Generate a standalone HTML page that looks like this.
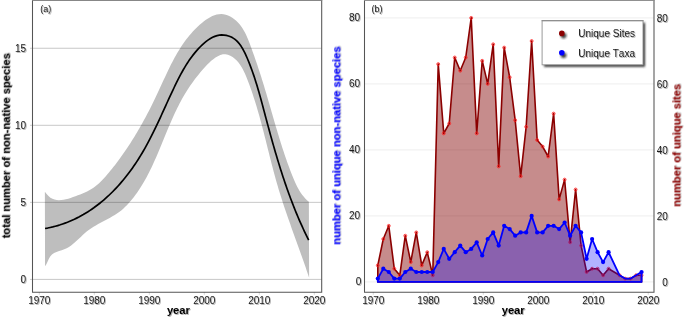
<!DOCTYPE html>
<html><head><meta charset="utf-8"><style>
html,body{margin:0;padding:0;background:#fff;width:685px;height:320px;overflow:hidden;}
svg{display:block;}
text{font-family:"Liberation Sans", sans-serif;font-kerning:none;}
</style></head><body>
<svg width="685" height="320" viewBox="0 0 685 320">
<defs>
<filter id="ts" x="-20%" y="-20%" width="140%" height="140%"><feDropShadow dx="0.9" dy="0.9" stdDeviation="0.6" flood-color="#000" flood-opacity="0.35"/></filter>
<filter id="sh" x="-20%" y="-20%" width="140%" height="140%"><feGaussianBlur stdDeviation="0.9"/></filter>
</defs>
<rect width="685" height="320" fill="#fff"/>
<path d="M44.87,191.68 L46.63,194.12 L48.48,196.09 L50.42,197.63 L52.44,198.77 L54.54,199.56 L56.71,200.02 L58.94,200.18 L61.21,200.1 L63.53,199.8 L65.88,199.31 L68.26,198.67 L70.65,197.93 L73.05,197.1 L75.45,196.24 L77.85,195.35 L80.22,194.44 L82.56,193.49 L84.86,192.48 L87.12,191.42 L89.31,190.27 L91.42,189.05 L93.46,187.72 L95.41,186.29 L97.29,184.78 L99.1,183.18 L100.84,181.51 L102.54,179.79 L104.19,178.01 L105.8,176.2 L107.39,174.36 L108.96,172.49 L110.5,170.61 L112.03,168.72 L113.55,166.81 L115.05,164.89 L116.53,162.96 L118,161.01 L119.45,159.04 L120.88,157.07 L122.3,155.08 L123.71,153.08 L125.09,151.07 L126.47,149.05 L127.83,147.01 L129.17,144.96 L130.51,142.91 L131.82,140.84 L133.12,138.76 L134.41,136.67 L135.69,134.57 L136.95,132.46 L138.2,130.34 L139.44,128.21 L140.66,126.07 L141.87,123.93 L143.07,121.77 L144.25,119.61 L145.43,117.44 L146.59,115.26 L147.74,113.07 L148.88,110.88 L150.01,108.68 L151.12,106.47 L152.23,104.26 L153.32,102.04 L154.4,99.82 L155.48,97.59 L156.54,95.35 L157.59,93.11 L158.64,90.86 L159.67,88.62 L160.71,86.37 L161.74,84.12 L162.77,81.87 L163.8,79.62 L164.83,77.38 L165.88,75.14 L166.92,72.91 L167.98,70.68 L169.06,68.47 L170.14,66.26 L171.24,64.07 L172.37,61.89 L173.51,59.72 L174.67,57.57 L175.86,55.43 L177.08,53.32 L178.32,51.22 L179.6,49.14 L180.91,47.08 L182.25,45.05 L183.63,43.04 L185.05,41.06 L186.52,39.1 L188.02,37.17 L189.58,35.28 L191.18,33.41 L192.83,31.57 L194.53,29.77 L196.29,28.01 L198.1,26.28 L199.97,24.58 L201.9,22.93 L203.89,21.34 L205.93,19.83 L208.02,18.44 L210.15,17.19 L212.32,16.11 L214.52,15.24 L216.74,14.59 L218.99,14.19 L221.25,14.08 L223.52,14.28 L225.79,14.77 L228.02,15.54 L230.2,16.54 L232.31,17.77 L234.32,19.18 L236.21,20.75 L237.96,22.46 L239.58,24.29 L241.08,26.23 L242.47,28.27 L243.76,30.39 L244.96,32.59 L246.08,34.86 L247.14,37.17 L248.13,39.52 L249.08,41.89 L249.99,44.28 L250.87,46.66 L251.73,49.04 L252.58,51.4 L253.41,53.75 L254.24,56.08 L255.05,58.41 L255.85,60.73 L256.64,63.03 L257.42,65.34 L258.19,67.64 L258.95,69.94 L259.7,72.23 L260.45,74.53 L261.18,76.84 L261.91,79.14 L262.63,81.46 L263.34,83.78 L264.05,86.1 L264.75,88.43 L265.45,90.77 L266.15,93.11 L266.84,95.45 L267.52,97.8 L268.21,100.15 L268.89,102.5 L269.57,104.86 L270.25,107.22 L270.93,109.58 L271.61,111.94 L272.29,114.31 L272.98,116.67 L273.66,119.04 L274.35,121.41 L275.04,123.77 L275.73,126.14 L276.43,128.51 L277.13,130.87 L277.84,133.24 L278.56,135.6 L279.28,137.96 L280,140.32 L280.74,142.68 L281.48,145.03 L282.24,147.38 L283,149.73 L283.77,152.07 L284.55,154.41 L285.34,156.74 L286.15,159.07 L286.96,161.39 L287.79,163.71 L288.64,166.02 L289.49,168.33 L290.36,170.63 L291.25,172.92 L292.15,175.2 L293.07,177.48 L294.01,179.75 L294.98,181.99 L296,184.21 L297.07,186.4 L298.2,188.55 L299.41,190.65 L300.71,192.69 L302.1,194.67 L303.6,196.58 L305.23,198.41 L306.98,200.16 L308.87,201.81 L309.12,277.74 L308.28,275.21 L307.43,272.68 L306.57,270.15 L305.71,267.62 L304.83,265.1 L303.96,262.58 L303.07,260.06 L302.18,257.54 L301.29,255.02 L300.39,252.51 L299.49,249.99 L298.59,247.48 L297.68,244.97 L296.78,242.46 L295.87,239.95 L294.97,237.43 L294.06,234.92 L293.16,232.41 L292.26,229.9 L291.36,227.38 L290.47,224.87 L289.58,222.35 L288.69,219.83 L287.81,217.32 L286.94,214.79 L286.08,212.27 L285.22,209.75 L284.37,207.22 L283.52,204.69 L282.69,202.15 L281.87,199.61 L281.06,197.07 L280.26,194.53 L279.47,191.98 L278.69,189.43 L277.93,186.87 L277.18,184.31 L276.45,181.75 L275.72,179.18 L275.01,176.61 L274.31,174.03 L273.62,171.45 L272.94,168.87 L272.26,166.29 L271.59,163.7 L270.93,161.11 L270.27,158.52 L269.61,155.93 L268.96,153.34 L268.31,150.75 L267.66,148.15 L267.01,145.56 L266.36,142.97 L265.71,140.37 L265.06,137.78 L264.4,135.19 L263.74,132.6 L263.07,130.01 L262.4,127.43 L261.72,124.84 L261.03,122.26 L260.33,119.68 L259.62,117.11 L258.9,114.54 L258.17,111.97 L257.43,109.41 L256.67,106.85 L255.9,104.29 L255.11,101.74 L254.31,99.2 L253.48,96.66 L252.64,94.12 L251.78,91.59 L250.9,89.07 L250,86.56 L249.08,84.05 L248.13,81.55 L247.16,79.05 L246.17,76.57 L245.12,74.11 L244.02,71.68 L242.82,69.3 L241.51,66.99 L240.08,64.76 L238.48,62.62 L236.72,60.59 L234.75,58.7 L232.62,57.01 L230.33,55.64 L227.93,54.67 L225.44,54.2 L222.89,54.34 L220.34,55.07 L217.85,56.2 L215.5,57.58 L213.3,59.14 L211.21,60.84 L209.23,62.66 L207.32,64.58 L205.48,66.55 L203.67,68.55 L201.9,70.57 L200.17,72.61 L198.47,74.67 L196.8,76.75 L195.17,78.86 L193.57,80.99 L192.01,83.14 L190.49,85.31 L189,87.5 L187.55,89.72 L186.13,91.96 L184.75,94.23 L183.41,96.52 L182.1,98.83 L180.82,101.16 L179.57,103.51 L178.36,105.88 L177.17,108.27 L176,110.68 L174.86,113.09 L173.74,115.53 L172.63,117.97 L171.55,120.43 L170.48,122.89 L169.42,125.37 L168.37,127.85 L167.33,130.33 L166.3,132.82 L165.27,135.31 L164.25,137.81 L163.23,140.3 L162.21,142.8 L161.18,145.29 L160.15,147.78 L159.11,150.26 L158.07,152.74 L157.01,155.21 L155.94,157.67 L154.86,160.12 L153.76,162.56 L152.64,164.99 L151.5,167.4 L150.34,169.8 L149.15,172.18 L147.94,174.54 L146.7,176.89 L145.43,179.21 L144.13,181.51 L142.79,183.79 L141.41,186.05 L140,188.27 L138.55,190.48 L137.06,192.65 L135.52,194.79 L133.93,196.91 L132.3,198.99 L130.61,201.03 L128.88,203.03 L127.08,204.98 L125.21,206.86 L123.27,208.66 L121.26,210.38 L119.16,212 L116.99,213.53 L114.75,214.97 L112.45,216.35 L110.11,217.68 L107.74,218.97 L105.35,220.24 L102.96,221.5 L100.56,222.77 L98.19,224.06 L95.84,225.39 L93.54,226.77 L91.28,228.22 L89.1,229.74 L86.98,231.36 L84.95,233.08 L82.97,234.87 L81.03,236.69 L79.11,238.53 L77.17,240.35 L75.22,242.12 L73.21,243.82 L71.14,245.42 L68.97,246.89 L66.69,248.2 L64.29,249.33 L61.74,250.25 L59.11,251.07 L56.53,251.95 L54.1,253.05 L51.96,254.53 L50.19,256.55 L48.77,259.01 L47.53,261.63 L46.35,264.17 L45.05,266.34 Z" fill="#bebebe"/>
<line x1="32.5" y1="279.4" x2="321.7" y2="279.4" stroke="#000" stroke-opacity="0.22" stroke-width="1"/>
<line x1="30" y1="279.4" x2="32.5" y2="279.4" stroke="#000" stroke-opacity="0.2" stroke-width="1"/>
<line x1="32.5" y1="202.35" x2="321.7" y2="202.35" stroke="#000" stroke-opacity="0.22" stroke-width="1"/>
<line x1="30" y1="202.35" x2="32.5" y2="202.35" stroke="#000" stroke-opacity="0.2" stroke-width="1"/>
<line x1="32.5" y1="125.3" x2="321.7" y2="125.3" stroke="#000" stroke-opacity="0.22" stroke-width="1"/>
<line x1="30" y1="125.3" x2="32.5" y2="125.3" stroke="#000" stroke-opacity="0.2" stroke-width="1"/>
<line x1="32.5" y1="48.25" x2="321.7" y2="48.25" stroke="#000" stroke-opacity="0.22" stroke-width="1"/>
<line x1="30" y1="48.25" x2="32.5" y2="48.25" stroke="#000" stroke-opacity="0.2" stroke-width="1"/>
<path d="M45.03,228.52 L47.63,228.04 L50.2,227.5 L52.74,226.91 L55.26,226.26 L57.75,225.56 L60.21,224.81 L62.64,224 L65.05,223.14 L67.42,222.24 L69.77,221.28 L72.09,220.28 L74.39,219.23 L76.65,218.13 L78.89,216.99 L81.1,215.8 L83.29,214.57 L85.45,213.29 L87.58,211.98 L89.68,210.62 L91.76,209.22 L93.81,207.79 L95.83,206.31 L97.83,204.8 L99.8,203.25 L101.74,201.67 L103.66,200.05 L105.55,198.4 L107.42,196.72 L109.26,195 L111.07,193.25 L112.86,191.48 L114.62,189.67 L116.36,187.84 L118.07,185.97 L119.75,184.09 L121.41,182.17 L123.05,180.24 L124.66,178.28 L126.24,176.29 L127.8,174.29 L129.33,172.26 L130.84,170.21 L132.33,168.15 L133.79,166.06 L135.22,163.96 L136.63,161.85 L138.01,159.71 L139.38,157.57 L140.71,155.41 L142.02,153.23 L143.31,151.05 L144.58,148.85 L145.82,146.65 L147.04,144.43 L148.24,142.21 L149.42,139.97 L150.58,137.73 L151.72,135.48 L152.85,133.23 L153.97,130.97 L155.07,128.7 L156.16,126.43 L157.24,124.15 L158.31,121.87 L159.37,119.58 L160.43,117.29 L161.48,115 L162.52,112.71 L163.57,110.41 L164.61,108.12 L165.65,105.82 L166.7,103.52 L167.74,101.23 L168.79,98.93 L169.85,96.64 L170.91,94.35 L171.98,92.06 L173.05,89.78 L174.14,87.5 L175.24,85.22 L176.35,82.95 L177.47,80.69 L178.61,78.43 L179.78,76.18 L180.97,73.94 L182.18,71.72 L183.43,69.51 L184.72,67.32 L186.04,65.15 L187.41,62.99 L188.82,60.86 L190.28,58.76 L191.79,56.68 L193.37,54.63 L195,52.6 L196.7,50.61 L198.46,48.66 L200.3,46.74 L202.2,44.87 L204.17,43.09 L206.2,41.42 L208.28,39.89 L210.42,38.51 L212.6,37.33 L214.82,36.36 L217.09,35.62 L219.38,35.16 L221.7,34.96 L224.01,35.04 L226.29,35.37 L228.52,35.95 L230.68,36.79 L232.74,37.85 L234.68,39.15 L236.49,40.67 L238.16,42.39 L239.72,44.29 L241.17,46.33 L242.52,48.51 L243.78,50.79 L244.97,53.15 L246.1,55.57 L247.16,58.02 L248.19,60.48 L249.18,62.93 L250.13,65.38 L251.06,67.83 L251.95,70.27 L252.82,72.7 L253.65,75.13 L254.47,77.56 L255.25,79.98 L256.02,82.4 L256.77,84.82 L257.5,87.23 L258.21,89.65 L258.91,92.06 L259.59,94.47 L260.26,96.88 L260.92,99.29 L261.58,101.7 L262.23,104.11 L262.87,106.52 L263.51,108.93 L264.15,111.35 L264.79,113.77 L265.43,116.19 L266.07,118.61 L266.72,121.03 L267.37,123.46 L268.03,125.89 L268.68,128.32 L269.35,130.75 L270.01,133.18 L270.68,135.62 L271.36,138.05 L272.04,140.49 L272.73,142.92 L273.42,145.36 L274.12,147.79 L274.82,150.23 L275.53,152.66 L276.25,155.09 L276.97,157.52 L277.71,159.95 L278.44,162.38 L279.19,164.81 L279.95,167.23 L280.71,169.66 L281.48,172.08 L282.26,174.49 L283.05,176.91 L283.85,179.32 L284.65,181.72 L285.47,184.12 L286.3,186.52 L287.14,188.92 L287.99,191.31 L288.85,193.69 L289.72,196.07 L290.6,198.45 L291.49,200.82 L292.4,203.18 L293.31,205.54 L294.24,207.89 L295.18,210.24 L296.14,212.57 L297.11,214.91 L298.09,217.23 L299.08,219.55 L300.09,221.86 L301.11,224.16 L302.15,226.45 L303.2,228.74 L304.27,231.02 L305.35,233.28 L306.45,235.54 L307.56,237.79 L308.69,240.03" fill="none" stroke="#000" stroke-width="1.7" stroke-linecap="butt" stroke-linejoin="round"/>
<path d="M32.5,0 V292.3 H321.7 V0" fill="none" stroke="#555" stroke-width="1.05"/>
<line x1="32.0" y1="0.45" x2="322.2" y2="0.45" stroke="#808080" stroke-width="1"/>
<line x1="39.3" y1="292.3" x2="39.3" y2="294.8" stroke="#000" stroke-opacity="0.15" stroke-width="1"/>
<text x="39.3" y="303.7" font-family="Liberation Sans" font-size="10" text-anchor="middle" fill="#1a1a1a" filter="url(#ts)">1970</text>
<line x1="94.3" y1="292.3" x2="94.3" y2="294.8" stroke="#000" stroke-opacity="0.15" stroke-width="1"/>
<text x="94.3" y="303.7" font-family="Liberation Sans" font-size="10" text-anchor="middle" fill="#1a1a1a" filter="url(#ts)">1980</text>
<line x1="149.3" y1="292.3" x2="149.3" y2="294.8" stroke="#000" stroke-opacity="0.15" stroke-width="1"/>
<text x="149.3" y="303.7" font-family="Liberation Sans" font-size="10" text-anchor="middle" fill="#1a1a1a" filter="url(#ts)">1990</text>
<line x1="204.3" y1="292.3" x2="204.3" y2="294.8" stroke="#000" stroke-opacity="0.15" stroke-width="1"/>
<text x="204.3" y="303.7" font-family="Liberation Sans" font-size="10" text-anchor="middle" fill="#1a1a1a" filter="url(#ts)">2000</text>
<line x1="259.3" y1="292.3" x2="259.3" y2="294.8" stroke="#000" stroke-opacity="0.15" stroke-width="1"/>
<text x="259.3" y="303.7" font-family="Liberation Sans" font-size="10" text-anchor="middle" fill="#1a1a1a" filter="url(#ts)">2010</text>
<line x1="314.3" y1="292.3" x2="314.3" y2="294.8" stroke="#000" stroke-opacity="0.15" stroke-width="1"/>
<text x="314.3" y="303.7" font-family="Liberation Sans" font-size="10" text-anchor="middle" fill="#1a1a1a" filter="url(#ts)">2020</text>
<text x="26.1" y="283" font-family="Liberation Sans" font-size="10" text-anchor="end" fill="#1a1a1a" filter="url(#ts)">0</text>
<text x="26.1" y="205.95" font-family="Liberation Sans" font-size="10" text-anchor="end" fill="#1a1a1a" filter="url(#ts)">5</text>
<text x="26.1" y="128.9" font-family="Liberation Sans" font-size="10" text-anchor="end" fill="#1a1a1a" filter="url(#ts)">10</text>
<text x="26.1" y="51.85" font-family="Liberation Sans" font-size="10" text-anchor="end" fill="#1a1a1a" filter="url(#ts)">15</text>
<text x="40.3" y="11.6" font-family="Liberation Sans" font-size="9" fill="#1a1a1a" filter="url(#ts)">(a)</text>
<text x="178.4" y="313.8" font-family="Liberation Sans" font-size="11.2" font-weight="bold" text-anchor="middle" fill="#000" filter="url(#ts)">year</text>
<text transform="translate(9.8,145.8) rotate(-90)" font-family="Liberation Sans" font-size="11.2" font-weight="bold" text-anchor="middle" fill="#000" filter="url(#ts)">total number of non-native species</text>
<line x1="364.5" y1="281.9" x2="654.0" y2="281.9" stroke="#000" stroke-opacity="0.07" stroke-width="1"/>
<line x1="364.5" y1="215.9" x2="654.0" y2="215.9" stroke="#000" stroke-opacity="0.07" stroke-width="1"/>
<line x1="364.5" y1="149.9" x2="654.0" y2="149.9" stroke="#000" stroke-opacity="0.07" stroke-width="1"/>
<line x1="364.5" y1="83.9" x2="654.0" y2="83.9" stroke="#000" stroke-opacity="0.07" stroke-width="1"/>
<line x1="364.5" y1="17.9" x2="654.0" y2="17.9" stroke="#000" stroke-opacity="0.07" stroke-width="1"/>
<path d="M377.8,265.4 L383.29,239 L388.79,225.8 L394.28,268.7 L399.78,275.3 L405.27,235.7 L410.76,262.1 L416.26,232.4 L421.75,265.4 L427.25,252.2 L432.75,275.3 L438.24,64.1 L443.74,133.4 L449.23,123.5 L454.73,57.5 L460.22,70.7 L465.72,57.5 L471.21,17.9 L476.71,133.4 L482.2,60.8 L487.69,83.9 L493.19,44.3 L498.69,166.4 L504.18,47.6 L509.68,77.3 L515.17,120.2 L520.66,176.3 L526.16,126.8 L531.65,41 L537.15,140 L542.64,146.6 L548.14,156.5 L553.63,113.6 L559.13,199.4 L564.62,179.6 L570.12,242.3 L575.62,189.5 L581.11,245.6 L586.61,272 L592.1,268.7 L597.6,268.7 L603.09,275.3 L608.59,268.7 L619.58,275.3 L625.07,278.6 L630.57,278.6 L636.06,275.3 L641.56,275.3 L641.56,281.9 L377.8,281.9 Z" fill="#800000" fill-opacity="0.45" stroke="#8b0000" stroke-width="1.6" stroke-linejoin="round"/>
<circle cx="377.8" cy="265.4" r="1.45" fill="#f00" fill-opacity="0.15" stroke="#ff1a1a" stroke-opacity="0.85" stroke-width="0.9"/>
<circle cx="383.29" cy="239" r="1.45" fill="#f00" fill-opacity="0.15" stroke="#ff1a1a" stroke-opacity="0.85" stroke-width="0.9"/>
<circle cx="388.79" cy="225.8" r="1.45" fill="#f00" fill-opacity="0.15" stroke="#ff1a1a" stroke-opacity="0.85" stroke-width="0.9"/>
<circle cx="394.28" cy="268.7" r="1.45" fill="#f00" fill-opacity="0.15" stroke="#ff1a1a" stroke-opacity="0.85" stroke-width="0.9"/>
<circle cx="399.78" cy="275.3" r="1.45" fill="#f00" fill-opacity="0.15" stroke="#ff1a1a" stroke-opacity="0.85" stroke-width="0.9"/>
<circle cx="405.27" cy="235.7" r="1.45" fill="#f00" fill-opacity="0.15" stroke="#ff1a1a" stroke-opacity="0.85" stroke-width="0.9"/>
<circle cx="410.76" cy="262.1" r="1.45" fill="#f00" fill-opacity="0.15" stroke="#ff1a1a" stroke-opacity="0.85" stroke-width="0.9"/>
<circle cx="416.26" cy="232.4" r="1.45" fill="#f00" fill-opacity="0.15" stroke="#ff1a1a" stroke-opacity="0.85" stroke-width="0.9"/>
<circle cx="421.75" cy="265.4" r="1.45" fill="#f00" fill-opacity="0.15" stroke="#ff1a1a" stroke-opacity="0.85" stroke-width="0.9"/>
<circle cx="427.25" cy="252.2" r="1.45" fill="#f00" fill-opacity="0.15" stroke="#ff1a1a" stroke-opacity="0.85" stroke-width="0.9"/>
<circle cx="432.75" cy="275.3" r="1.45" fill="#f00" fill-opacity="0.15" stroke="#ff1a1a" stroke-opacity="0.85" stroke-width="0.9"/>
<circle cx="438.24" cy="64.1" r="1.45" fill="#f00" fill-opacity="0.15" stroke="#ff1a1a" stroke-opacity="0.85" stroke-width="0.9"/>
<circle cx="443.74" cy="133.4" r="1.45" fill="#f00" fill-opacity="0.15" stroke="#ff1a1a" stroke-opacity="0.85" stroke-width="0.9"/>
<circle cx="449.23" cy="123.5" r="1.45" fill="#f00" fill-opacity="0.15" stroke="#ff1a1a" stroke-opacity="0.85" stroke-width="0.9"/>
<circle cx="454.73" cy="57.5" r="1.45" fill="#f00" fill-opacity="0.15" stroke="#ff1a1a" stroke-opacity="0.85" stroke-width="0.9"/>
<circle cx="460.22" cy="70.7" r="1.45" fill="#f00" fill-opacity="0.15" stroke="#ff1a1a" stroke-opacity="0.85" stroke-width="0.9"/>
<circle cx="465.72" cy="57.5" r="1.45" fill="#f00" fill-opacity="0.15" stroke="#ff1a1a" stroke-opacity="0.85" stroke-width="0.9"/>
<circle cx="471.21" cy="17.9" r="1.45" fill="#f00" fill-opacity="0.15" stroke="#ff1a1a" stroke-opacity="0.85" stroke-width="0.9"/>
<circle cx="476.71" cy="133.4" r="1.45" fill="#f00" fill-opacity="0.15" stroke="#ff1a1a" stroke-opacity="0.85" stroke-width="0.9"/>
<circle cx="482.2" cy="60.8" r="1.45" fill="#f00" fill-opacity="0.15" stroke="#ff1a1a" stroke-opacity="0.85" stroke-width="0.9"/>
<circle cx="487.69" cy="83.9" r="1.45" fill="#f00" fill-opacity="0.15" stroke="#ff1a1a" stroke-opacity="0.85" stroke-width="0.9"/>
<circle cx="493.19" cy="44.3" r="1.45" fill="#f00" fill-opacity="0.15" stroke="#ff1a1a" stroke-opacity="0.85" stroke-width="0.9"/>
<circle cx="498.69" cy="166.4" r="1.45" fill="#f00" fill-opacity="0.15" stroke="#ff1a1a" stroke-opacity="0.85" stroke-width="0.9"/>
<circle cx="504.18" cy="47.6" r="1.45" fill="#f00" fill-opacity="0.15" stroke="#ff1a1a" stroke-opacity="0.85" stroke-width="0.9"/>
<circle cx="509.68" cy="77.3" r="1.45" fill="#f00" fill-opacity="0.15" stroke="#ff1a1a" stroke-opacity="0.85" stroke-width="0.9"/>
<circle cx="515.17" cy="120.2" r="1.45" fill="#f00" fill-opacity="0.15" stroke="#ff1a1a" stroke-opacity="0.85" stroke-width="0.9"/>
<circle cx="520.66" cy="176.3" r="1.45" fill="#f00" fill-opacity="0.15" stroke="#ff1a1a" stroke-opacity="0.85" stroke-width="0.9"/>
<circle cx="526.16" cy="126.8" r="1.45" fill="#f00" fill-opacity="0.15" stroke="#ff1a1a" stroke-opacity="0.85" stroke-width="0.9"/>
<circle cx="531.65" cy="41" r="1.45" fill="#f00" fill-opacity="0.15" stroke="#ff1a1a" stroke-opacity="0.85" stroke-width="0.9"/>
<circle cx="537.15" cy="140" r="1.45" fill="#f00" fill-opacity="0.15" stroke="#ff1a1a" stroke-opacity="0.85" stroke-width="0.9"/>
<circle cx="542.64" cy="146.6" r="1.45" fill="#f00" fill-opacity="0.15" stroke="#ff1a1a" stroke-opacity="0.85" stroke-width="0.9"/>
<circle cx="548.14" cy="156.5" r="1.45" fill="#f00" fill-opacity="0.15" stroke="#ff1a1a" stroke-opacity="0.85" stroke-width="0.9"/>
<circle cx="553.63" cy="113.6" r="1.45" fill="#f00" fill-opacity="0.15" stroke="#ff1a1a" stroke-opacity="0.85" stroke-width="0.9"/>
<circle cx="559.13" cy="199.4" r="1.45" fill="#f00" fill-opacity="0.15" stroke="#ff1a1a" stroke-opacity="0.85" stroke-width="0.9"/>
<circle cx="564.62" cy="179.6" r="1.45" fill="#f00" fill-opacity="0.15" stroke="#ff1a1a" stroke-opacity="0.85" stroke-width="0.9"/>
<circle cx="570.12" cy="242.3" r="1.45" fill="#f00" fill-opacity="0.15" stroke="#ff1a1a" stroke-opacity="0.85" stroke-width="0.9"/>
<circle cx="575.62" cy="189.5" r="1.45" fill="#f00" fill-opacity="0.15" stroke="#ff1a1a" stroke-opacity="0.85" stroke-width="0.9"/>
<circle cx="581.11" cy="245.6" r="1.45" fill="#f00" fill-opacity="0.15" stroke="#ff1a1a" stroke-opacity="0.85" stroke-width="0.9"/>
<circle cx="586.61" cy="272" r="1.45" fill="#f00" fill-opacity="0.15" stroke="#ff1a1a" stroke-opacity="0.85" stroke-width="0.9"/>
<circle cx="592.1" cy="268.7" r="1.45" fill="#f00" fill-opacity="0.15" stroke="#ff1a1a" stroke-opacity="0.85" stroke-width="0.9"/>
<circle cx="597.6" cy="268.7" r="1.45" fill="#f00" fill-opacity="0.15" stroke="#ff1a1a" stroke-opacity="0.85" stroke-width="0.9"/>
<circle cx="603.09" cy="275.3" r="1.45" fill="#f00" fill-opacity="0.15" stroke="#ff1a1a" stroke-opacity="0.85" stroke-width="0.9"/>
<circle cx="608.59" cy="268.7" r="1.45" fill="#f00" fill-opacity="0.15" stroke="#ff1a1a" stroke-opacity="0.85" stroke-width="0.9"/>
<circle cx="619.58" cy="275.3" r="1.45" fill="#f00" fill-opacity="0.15" stroke="#ff1a1a" stroke-opacity="0.85" stroke-width="0.9"/>
<circle cx="625.07" cy="278.6" r="1.45" fill="#f00" fill-opacity="0.15" stroke="#ff1a1a" stroke-opacity="0.85" stroke-width="0.9"/>
<circle cx="630.57" cy="278.6" r="1.45" fill="#f00" fill-opacity="0.15" stroke="#ff1a1a" stroke-opacity="0.85" stroke-width="0.9"/>
<circle cx="636.06" cy="275.3" r="1.45" fill="#f00" fill-opacity="0.15" stroke="#ff1a1a" stroke-opacity="0.85" stroke-width="0.9"/>
<circle cx="641.56" cy="275.3" r="1.45" fill="#f00" fill-opacity="0.15" stroke="#ff1a1a" stroke-opacity="0.85" stroke-width="0.9"/>
<path d="M377.8,278.6 L383.29,268.7 L388.79,272 L394.28,278.6 L399.78,278.6 L405.27,272 L410.76,268.7 L416.26,272 L421.75,272 L427.25,272 L432.75,272 L438.24,262.1 L443.74,248.9 L449.23,258.8 L454.73,252.2 L460.22,245.6 L465.72,252.2 L471.21,248.9 L476.71,242.3 L482.2,255.5 L487.69,239 L493.19,232.4 L498.69,245.6 L504.18,225.8 L509.68,229.1 L515.17,235.7 L520.66,232.4 L526.16,232.4 L531.65,215.9 L537.15,232.4 L542.64,232.4 L548.14,225.8 L553.63,225.8 L559.13,229.1 L564.62,222.5 L570.12,235.7 L575.62,225.8 L581.11,232.4 L586.61,258.8 L592.1,239 L597.6,252.2 L603.09,262.1 L608.59,252.2 L619.58,275.3 L625.07,278.6 L630.57,278.6 L636.06,275.3 L641.56,272 L641.56,281.9 L377.8,281.9 Z" fill="#0000ff" fill-opacity="0.3" stroke="#0000ff" stroke-width="1.8" stroke-linejoin="round"/>
<circle cx="377.8" cy="278.6" r="2.1" fill="#0000ff"/>
<circle cx="383.29" cy="268.7" r="2.1" fill="#0000ff"/>
<circle cx="388.79" cy="272" r="2.1" fill="#0000ff"/>
<circle cx="394.28" cy="278.6" r="2.1" fill="#0000ff"/>
<circle cx="399.78" cy="278.6" r="2.1" fill="#0000ff"/>
<circle cx="405.27" cy="272" r="2.1" fill="#0000ff"/>
<circle cx="410.76" cy="268.7" r="2.1" fill="#0000ff"/>
<circle cx="416.26" cy="272" r="2.1" fill="#0000ff"/>
<circle cx="421.75" cy="272" r="2.1" fill="#0000ff"/>
<circle cx="427.25" cy="272" r="2.1" fill="#0000ff"/>
<circle cx="432.75" cy="272" r="2.1" fill="#0000ff"/>
<circle cx="438.24" cy="262.1" r="2.1" fill="#0000ff"/>
<circle cx="443.74" cy="248.9" r="2.1" fill="#0000ff"/>
<circle cx="449.23" cy="258.8" r="2.1" fill="#0000ff"/>
<circle cx="454.73" cy="252.2" r="2.1" fill="#0000ff"/>
<circle cx="460.22" cy="245.6" r="2.1" fill="#0000ff"/>
<circle cx="465.72" cy="252.2" r="2.1" fill="#0000ff"/>
<circle cx="471.21" cy="248.9" r="2.1" fill="#0000ff"/>
<circle cx="476.71" cy="242.3" r="2.1" fill="#0000ff"/>
<circle cx="482.2" cy="255.5" r="2.1" fill="#0000ff"/>
<circle cx="487.69" cy="239" r="2.1" fill="#0000ff"/>
<circle cx="493.19" cy="232.4" r="2.1" fill="#0000ff"/>
<circle cx="498.69" cy="245.6" r="2.1" fill="#0000ff"/>
<circle cx="504.18" cy="225.8" r="2.1" fill="#0000ff"/>
<circle cx="509.68" cy="229.1" r="2.1" fill="#0000ff"/>
<circle cx="515.17" cy="235.7" r="2.1" fill="#0000ff"/>
<circle cx="520.66" cy="232.4" r="2.1" fill="#0000ff"/>
<circle cx="526.16" cy="232.4" r="2.1" fill="#0000ff"/>
<circle cx="531.65" cy="215.9" r="2.1" fill="#0000ff"/>
<circle cx="537.15" cy="232.4" r="2.1" fill="#0000ff"/>
<circle cx="542.64" cy="232.4" r="2.1" fill="#0000ff"/>
<circle cx="548.14" cy="225.8" r="2.1" fill="#0000ff"/>
<circle cx="553.63" cy="225.8" r="2.1" fill="#0000ff"/>
<circle cx="559.13" cy="229.1" r="2.1" fill="#0000ff"/>
<circle cx="564.62" cy="222.5" r="2.1" fill="#0000ff"/>
<circle cx="570.12" cy="235.7" r="2.1" fill="#0000ff"/>
<circle cx="575.62" cy="225.8" r="2.1" fill="#0000ff"/>
<circle cx="581.11" cy="232.4" r="2.1" fill="#0000ff"/>
<circle cx="586.61" cy="258.8" r="2.1" fill="#0000ff"/>
<circle cx="592.1" cy="239" r="2.1" fill="#0000ff"/>
<circle cx="597.6" cy="252.2" r="2.1" fill="#0000ff"/>
<circle cx="603.09" cy="262.1" r="2.1" fill="#0000ff"/>
<circle cx="608.59" cy="252.2" r="2.1" fill="#0000ff"/>
<circle cx="641.56" cy="272" r="2.1" fill="#0000ff"/>
<path d="M364.5,0 V292.3 H654.0 V0" fill="none" stroke="#555" stroke-width="1.05"/>
<line x1="364.0" y1="0.45" x2="654.5" y2="0.45" stroke="#8a8a8a" stroke-width="1"/>
<line x1="373.25" y1="292.3" x2="373.25" y2="294.8" stroke="#000" stroke-opacity="0.15" stroke-width="1"/>
<text x="373.25" y="303.8" font-family="Liberation Sans" font-size="10" text-anchor="middle" fill="#1a1a1a" filter="url(#ts)">1970</text>
<line x1="428.25" y1="292.3" x2="428.25" y2="294.8" stroke="#000" stroke-opacity="0.15" stroke-width="1"/>
<text x="428.25" y="303.8" font-family="Liberation Sans" font-size="10" text-anchor="middle" fill="#1a1a1a" filter="url(#ts)">1980</text>
<line x1="483.25" y1="292.3" x2="483.25" y2="294.8" stroke="#000" stroke-opacity="0.15" stroke-width="1"/>
<text x="483.25" y="303.8" font-family="Liberation Sans" font-size="10" text-anchor="middle" fill="#1a1a1a" filter="url(#ts)">1990</text>
<line x1="538.25" y1="292.3" x2="538.25" y2="294.8" stroke="#000" stroke-opacity="0.15" stroke-width="1"/>
<text x="538.25" y="303.8" font-family="Liberation Sans" font-size="10" text-anchor="middle" fill="#1a1a1a" filter="url(#ts)">2000</text>
<line x1="593.25" y1="292.3" x2="593.25" y2="294.8" stroke="#000" stroke-opacity="0.15" stroke-width="1"/>
<text x="593.25" y="303.8" font-family="Liberation Sans" font-size="10" text-anchor="middle" fill="#1a1a1a" filter="url(#ts)">2010</text>
<line x1="648.25" y1="292.3" x2="648.25" y2="294.8" stroke="#000" stroke-opacity="0.15" stroke-width="1"/>
<text x="648.25" y="303.8" font-family="Liberation Sans" font-size="10" text-anchor="middle" fill="#1a1a1a" filter="url(#ts)">2020</text>
<text x="361.2" y="285.1" font-family="Liberation Sans" font-size="10" text-anchor="end" fill="#1a1a1a" filter="url(#ts)">0</text>
<text x="667.8" y="285.5" font-family="Liberation Sans" font-size="10" text-anchor="end" fill="#1a1a1a" filter="url(#ts)">0</text>
<text x="360.0" y="219.1" font-family="Liberation Sans" font-size="10" text-anchor="end" fill="#1a1a1a" filter="url(#ts)">20</text>
<text x="667.8" y="219.5" font-family="Liberation Sans" font-size="10" text-anchor="end" fill="#1a1a1a" filter="url(#ts)">20</text>
<text x="360.0" y="153.1" font-family="Liberation Sans" font-size="10" text-anchor="end" fill="#1a1a1a" filter="url(#ts)">40</text>
<text x="667.8" y="153.5" font-family="Liberation Sans" font-size="10" text-anchor="end" fill="#1a1a1a" filter="url(#ts)">40</text>
<text x="360.0" y="87.1" font-family="Liberation Sans" font-size="10" text-anchor="end" fill="#1a1a1a" filter="url(#ts)">60</text>
<text x="667.8" y="87.5" font-family="Liberation Sans" font-size="10" text-anchor="end" fill="#1a1a1a" filter="url(#ts)">60</text>
<text x="360.0" y="21.1" font-family="Liberation Sans" font-size="10" text-anchor="end" fill="#1a1a1a" filter="url(#ts)">80</text>
<text x="667.8" y="21.5" font-family="Liberation Sans" font-size="10" text-anchor="end" fill="#1a1a1a" filter="url(#ts)">80</text>
<text x="371.6" y="11.5" font-family="Liberation Sans" font-size="9" fill="#1a1a1a" filter="url(#ts)">(b)</text>
<text x="513.2" y="314.3" font-family="Liberation Sans" font-size="11.2" font-weight="bold" text-anchor="middle" fill="#000" filter="url(#ts)">year</text>
<text transform="translate(340.3,145.6) rotate(-90)" font-family="Liberation Sans" font-size="11.2" font-weight="bold" text-anchor="middle" fill="#0000ff" filter="url(#ts)">number of unique non-native species</text>
<text transform="translate(680.4,145.4) rotate(-90)" font-family="Liberation Sans" font-size="11.2" font-weight="bold" text-anchor="middle" fill="#8b0000" filter="url(#ts)">number of unique sites</text>
<rect x="544.1" y="22.7" width="100.9" height="44.1" fill="#333" filter="url(#sh)"/>
<rect x="542.1" y="20.7" width="100.9" height="44.1" fill="#fff" stroke="#999" stroke-width="1"/>
<line x1="541.6" y1="20.7" x2="643.5" y2="20.7" stroke="#888" stroke-width="1"/>
<circle cx="563.6" cy="35.6" r="2.8" fill="#222" fill-opacity="0.85" filter="url(#sh)"/>
<circle cx="561.8" cy="33.4" r="2.8" fill="#8b0000"/>
<circle cx="563.6" cy="55.2" r="2.8" fill="#222" fill-opacity="0.85" filter="url(#sh)"/>
<circle cx="561.8" cy="52.8" r="2.8" fill="#0000ff"/>
<text x="578.3" y="37.35" font-family="Liberation Sans" font-size="10" fill="#1a1a1a" filter="url(#ts)">Unique Sites</text>
<text x="578.3" y="56.65" font-family="Liberation Sans" font-size="10" fill="#1a1a1a" filter="url(#ts)">Unique Taxa</text>
</svg>
</body></html>
